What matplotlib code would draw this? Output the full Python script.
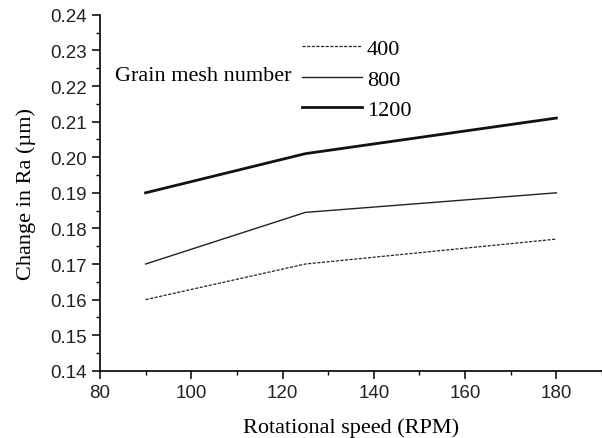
import matplotlib
matplotlib.use('Agg')
import matplotlib.pyplot as plt
from matplotlib.ticker import MultipleLocator

# rotational speed (RPM) and change in Ra for each grain mesh number
speed = [90, 125, 180]
ra_400 = [0.160, 0.170, 0.177]
ra_800 = [0.170, 0.1845, 0.190]
ra_1200 = [0.190, 0.201, 0.211]

fig = plt.figure(figsize=(6.02, 4.39), dpi=100)
ax = fig.add_axes([0.166, 0.153, 0.834, 0.811])

ax.plot(speed, ra_400, linestyle=(0, (2.5, 1.2)), color='#222222', lw=0.9, label='400')
ax.plot(speed, ra_800, '-', color='#222222', lw=1.0, label='800')
ax.plot(speed, ra_1200, '-', color='#111111', lw=2.0, label='1200')

ax.set_xlim(80, 190)
ax.set_ylim(0.14, 0.24)
ax.xaxis.set_major_locator(MultipleLocator(20))
ax.xaxis.set_minor_locator(MultipleLocator(10))
ax.yaxis.set_major_locator(MultipleLocator(0.01))
ax.yaxis.set_minor_locator(MultipleLocator(0.005))
ax.yaxis.set_major_formatter(plt.FormatStrFormatter('%.2f'))

ax.spines['top'].set_visible(False)
ax.spines['right'].set_visible(False)
ax.spines['left'].set_linewidth(1.2)
ax.spines['bottom'].set_linewidth(1.2)
ax.tick_params(which='major', direction='out', length=6, width=1.1)
ax.tick_params(which='minor', direction='out', length=3, width=1.0)
for lab in ax.get_xticklabels() + ax.get_yticklabels():
    lab.set_fontfamily('Liberation Sans')
    lab.set_fontsize(13.5)
    lab.set_color('#222222')

ax.set_xlabel('Rotational speed (RPM)', fontfamily='Liberation Serif', fontsize=16, labelpad=12)
ax.set_ylabel('Change in Ra (µm)', fontfamily='Liberation Serif', fontsize=16, labelpad=10)

fig.text(0.191, 0.825, 'Grain mesh number', fontfamily='Liberation Serif', fontsize=16,
         va='center', ha='left')
leg = ax.legend(loc='upper left', bbox_to_anchor=(0.502, 0.91), bbox_transform=fig.transFigure,
                frameon=False, handlelength=2.7, handletextpad=0.2, labelspacing=0.45,
                borderpad=0, borderaxespad=0,
                prop={'family': 'Liberation Serif', 'size': 16})

fig.savefig('out.png', dpi=100)
